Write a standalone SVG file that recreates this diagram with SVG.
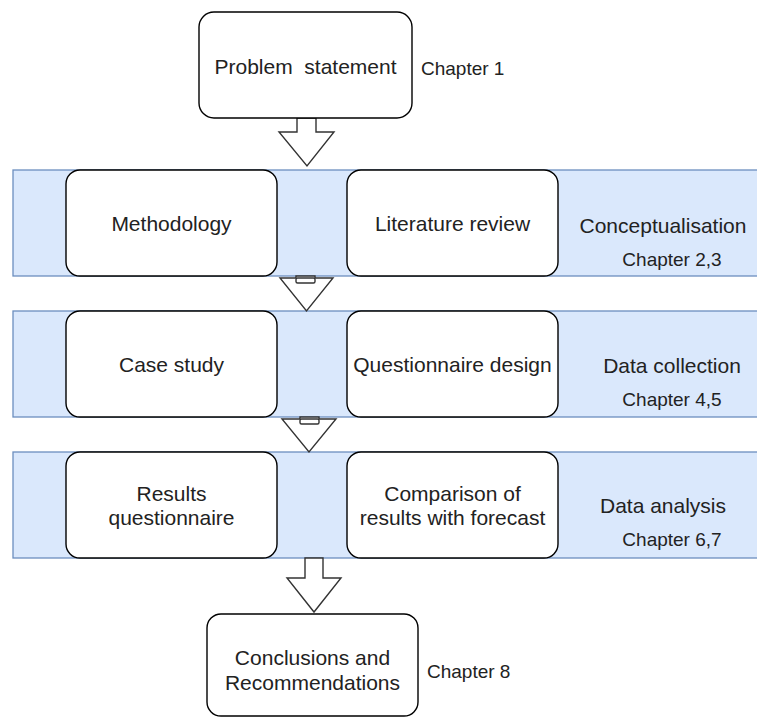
<svg xmlns="http://www.w3.org/2000/svg" width="757" height="718" viewBox="0 0 757 718">
<style>
.band{fill:#dae8fc;stroke:#6c8ebf;stroke-width:1.3}
.box{fill:#ffffff;stroke:#000000;stroke-width:1.4}
.arrow{fill:#ffffff;stroke:#333333;stroke-width:1.4;stroke-linejoin:miter}
.t{font-family:"Liberation Sans",Arial,sans-serif;font-size:21px;fill:#222222;text-anchor:middle}
.c{font-family:"Liberation Sans",Arial,sans-serif;font-size:19px;fill:#222222}
.cm{text-anchor:middle}
</style>
<rect x="0" y="0" width="757" height="718" fill="#ffffff"/>
<g id="bands">
<rect class="band" x="13" y="170" width="760" height="106"/>
<rect class="band" x="13" y="311" width="760" height="106"/>
<rect class="band" x="13" y="452" width="760" height="106"/>
</g>
<g id="connectors">
<polygon class="arrow" points="297,118 297,132 279,132 307,166 334,132 316,132 316,118"/>
<polygon class="arrow" points="296,276 296,278 280,278 306.5,311 333,278 315,278 315,276"/>
<rect class="arrow" x="296" y="278" width="19" height="5" rx="1.5"/>
<polygon class="arrow" points="300,417 300,419 282,419 309,452 336,419 319,419 319,417"/>
<rect class="arrow" x="300" y="419" width="19" height="5" rx="1.5"/>
<polygon class="arrow" points="305,558 305,578 287,578 314,612 341,578 323,578 323,558"/>
</g>
<g id="problem">
<rect class="box" x="199" y="12" width="213" height="106" rx="15"/>
<text class="t" x="305.5" y="74" xml:space="preserve">Problem  statement</text>
<text class="c" x="421" y="75">Chapter 1</text>
</g>
<g id="methodology">
<rect class="box" x="66" y="170" width="211" height="106" rx="14"/>
<text class="t" x="171.5" y="230.5">Methodology</text>
</g>
<g id="literature">
<rect class="box" x="347" y="170" width="211" height="106" rx="14"/>
<text class="t" x="452.5" y="230.5">Literature review</text>
</g>
<g id="conceptualisation">
<text class="t" x="663" y="233">Conceptualisation</text>
<text class="c cm" x="672" y="266">Chapter 2,3</text>
</g>
<g id="casestudy">
<rect class="box" x="66" y="311" width="211" height="106" rx="14"/>
<text class="t" x="171.5" y="371.5">Case study</text>
</g>
<g id="questionnaire">
<rect class="box" x="347" y="311" width="211" height="106" rx="14"/>
<text class="t" x="452.5" y="371.5">Questionnaire design</text>
</g>
<g id="datacollection">
<text class="t" x="672" y="373">Data collection</text>
<text class="c cm" x="672" y="406">Chapter 4,5</text>
</g>
<g id="results">
<rect class="box" x="66" y="452" width="211" height="106" rx="14"/>
<text class="t" x="171.5" y="501">Results</text>
<text class="t" x="171.5" y="525">questionnaire</text>
</g>
<g id="comparison">
<rect class="box" x="347" y="452" width="211" height="106" rx="14"/>
<text class="t" x="452.5" y="501">Comparison of</text>
<text class="t" x="452.5" y="525">results with forecast</text>
</g>
<g id="dataanalysis">
<text class="t" x="663" y="513">Data analysis</text>
<text class="c cm" x="672" y="546">Chapter 6,7</text>
</g>
<g id="conclusions">
<rect class="box" x="207" y="614" width="211" height="102" rx="14"/>
<text class="t" x="312.5" y="665">Conclusions and</text>
<text class="t" x="312.5" y="690">Recommendations</text>
<text class="c" x="427" y="678">Chapter 8</text>
</g>
</svg>
